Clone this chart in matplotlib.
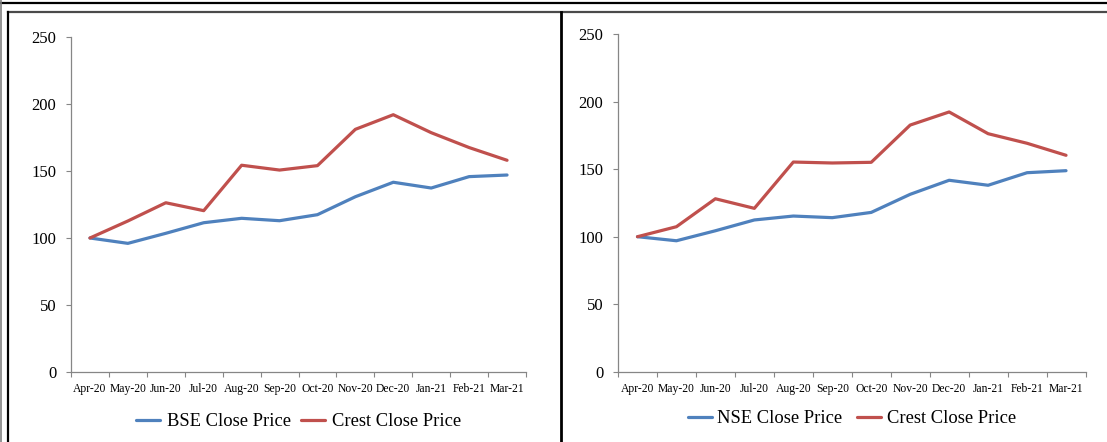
import matplotlib
matplotlib.use("Agg")
import matplotlib.pyplot as plt
from matplotlib.lines import Line2D
import numpy as np

months = ["Apr-20", "May-20", "Jun-20", "Jul-20", "Aug-20", "Sep-20",
          "Oct-20", "Nov-20", "Dec-20", "Jan-21", "Feb-21", "Mar-21"]

bse_close = [100, 96.0, 103.5, 111.4, 114.7, 112.9, 117.4, 130.8, 141.6, 137.3, 145.8, 147.0]
crest_close_bse = [100, 112.7, 126.3, 120.4, 154.3, 150.7, 154.0, 181.1, 192.0, 178.6, 167.5, 158.0]

nse_close = [100, 97.0, 104.4, 112.4, 115.3, 114.1, 118.0, 131.4, 141.8, 138.1, 147.4, 148.9]
crest_close_nse = [100, 107.4, 128.1, 121.0, 155.3, 154.6, 155.1, 182.7, 192.4, 176.3, 169.2, 160.3]

y_ticks = [0, 50, 100, 150, 200, 250]

BLUE = "#4F81BD"
RED = "#C0504D"
AXIS_GRAY = "#868686"
SERIF = ["Liberation Serif", "DejaVu Serif"]

W, H = 1107, 442
fig = plt.figure(figsize=(W / 100, H / 100), dpi=100)


def fx(px):
    return px / W


def fy(py):
    return 1 - py / H


def make_panel(rect, s1, s2, name1, legend_y, hpad, cspace):
    ax = fig.add_axes(rect)
    x = np.arange(len(months))
    ax.plot(x, s1, color=BLUE, lw=2.3, label=name1, solid_capstyle="round")
    ax.plot(x, s2, color=RED, lw=2.3, label="Crest Close Price", solid_capstyle="round")
    ax.set_xlim(-0.5, len(months) - 0.5)
    ax.set_ylim(0, 250)
    ax.set_yticks(y_ticks)
    ax.set_yticklabels([str(v) for v in y_ticks], fontfamily=SERIF, fontsize=12)
    ax.set_xticks(x)
    ax.set_xticklabels(months, fontfamily=SERIF, fontsize=8.4)
    ax.set_xticks(np.arange(-0.5, len(months)), minor=True)
    ax.tick_params(axis="x", which="major", length=0, pad=8)
    ax.tick_params(axis="x", which="minor", length=3.5, color=AXIS_GRAY, width=0.8)
    ax.tick_params(axis="y", length=3.5, color=AXIS_GRAY, width=0.8, pad=7)
    for s in ["top", "right"]:
        ax.spines[s].set_visible(False)
    for s in ["left", "bottom"]:
        ax.spines[s].set_color(AXIS_GRAY)
        ax.spines[s].set_linewidth(0.9)
    ax.legend(loc="center", bbox_to_anchor=(0.5, legend_y), ncol=2, frameon=False,
              prop={"family": SERIF, "size": 13.3}, handlelength=1.3,
              handletextpad=hpad, columnspacing=cspace)
    return ax


make_panel([fx(71), fy(372), fx(455), 335 / H], bse_close, crest_close_bse,
           "BSE Close Price", -0.148, 0.4, 0.5)
make_panel([fx(618), fy(371.7), fx(467.5), 337.5 / H], nse_close, crest_close_nse,
           "NSE Close Price", -0.14, 0.3, 0.8)

# Table-like borders
lines = [
    ([0, 1], [fy(3), fy(3)], "black", 1.6),
    ([fx(8), 1], [fy(12), fy(12)], "#4a4a4a", 1.6),
    ([fx(1), fx(1)], [0, 1], "#808080", 1.2),
    ([fx(8), fx(8)], [0, fy(12)], "black", 1.6),
    ([fx(561), fx(561)], [0, fy(12)], "black", 2.0),
]
for xs, ys, c, lw in lines:
    fig.add_artist(Line2D(xs, ys, color=c, lw=lw, transform=fig.transFigure))

fig.savefig("out.png", dpi=100)
